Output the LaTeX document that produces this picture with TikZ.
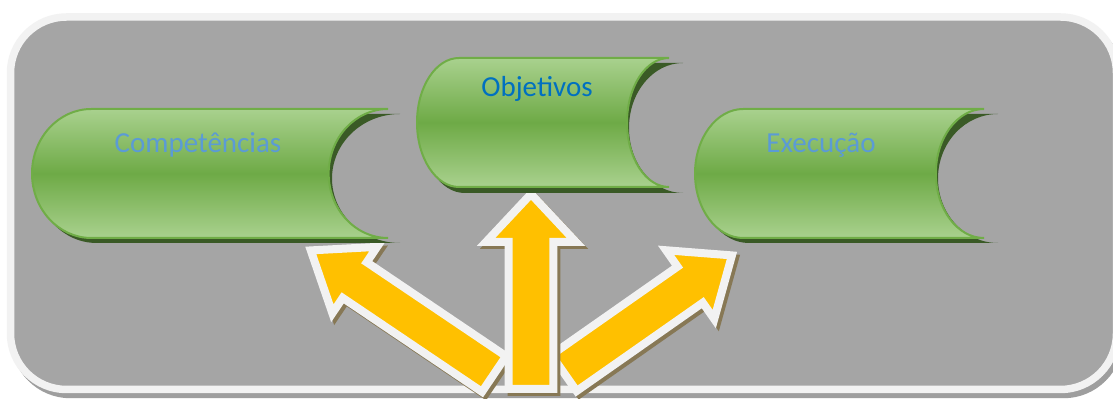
\documentclass[tikz,border=0pt]{standalone}
\usepackage{fontspec}
\setmainfont{Carlito}
\definecolor{framegray}{RGB}{165,165,165}
\definecolor{framewhite}{RGB}{242,242,242}
\definecolor{frameshadow}{RGB}{158,158,158}
\definecolor{glight}{RGB}{169,209,142}
\definecolor{gmid}{RGB}{110,170,70}
\definecolor{gedge}{RGB}{112,173,71}
\definecolor{gshadow}{RGB}{58,90,38}
\definecolor{ayellow}{RGB}{255,192,0}
\definecolor{ashadow}{RGB}{135,120,85}
\definecolor{tblue}{RGB}{91,155,213}
\definecolor{tdblue}{RGB}{0,112,192}
% stored-data shape: #1 style, #2 x0, #3 x1, #4 y0, #5 y1, #6 radius of the concave arc
\newcommand{\storeshapeR}[6]{%
  \path[#1] ({#2+(#3-#2)/6},#4) -- (#3,#4)
    arc[start angle=270, end angle=90, x radius={#6}, y radius={(#5-#4)/2}]
    -- ({#2+(#3-#2)/6},#5)
    arc[start angle=90, end angle=270, x radius={(#3-#2)/6}, y radius={(#5-#4)/2}]
    -- cycle;}
\newcommand{\storeshape}[5]{\storeshapeR{#1}{#2}{#3}{#4}{#5}{(#3-#2)/6}}
% block arrow: #1 #2 tail, #3 angle, #4 length, #5 head length, #6 head half width, #7 shaft half width
\newcommand{\blockarrow}[7]{%
  \begin{scope}[shift={(#1+3,#2+3)}, rotate=#3]
    \path[arrowshade] (0,-#7) -- (#4-#5,-#7) -- (#4-#5,-#6) -- (#4,0)
      -- (#4-#5,#6) -- (#4-#5,#7) -- (0,#7) -- cycle;
  \end{scope}
  \begin{scope}[shift={(#1,#2)}, rotate=#3]
    \path[arrowbody] (0,-#7) -- (#4-#5,-#7) -- (#4-#5,-#6) -- (#4,0)
      -- (#4-#5,#6) -- (#4-#5,#7) -- (0,#7) -- cycle;
  \end{scope}}
\begin{document}
\begin{tikzpicture}[x=0.5pt, y=-0.5pt, line join=miter]
\tikzset{
  greenbox/.style={top color=glight, bottom color=glight, middle color=gmid, draw=gedge, line width=1pt},
  greenshadow/.style={fill=gshadow},
  arrowbody/.style={fill=ayellow, draw=framewhite, line width=4pt},
  arrowshade/.style={fill=ashadow, draw=ashadow, line width=4pt},
  lbl/.style={anchor=base, inner sep=0pt, font=\fontsize{14.5pt}{17pt}\selectfont}
}
\useasboundingbox (0,0) rectangle (1113,399);
\fill[white] (0,0) rectangle (1113,399);
% frame
\path[fill=frameshadow, draw=frameshadow, line width=3.75pt, rounded corners=28pt] (14.5,22) rectangle (1119.5,394.5);
\path[fill=framegray, draw=framewhite, line width=3.75pt, rounded corners=28pt] (10.5,17) rectangle (1116.5,389.5);
% arrows
\blockarrow{494}{374}{146}{221}{53}{40}{21.5}
\blockarrow{564}{373}{35}{205}{51}{42}{22}
\blockarrow{531}{389}{90}{195}{48}{45}{22.3}
% green shapes: shadows
\storeshapeR{greenshadow}{36}{400}{114}{243}{68}
\storeshapeR{greenshadow}{421}{683}{63}{193}{54}
\storeshapeR{greenshadow}{699}{998}{114}{243}{60}
% green shapes
\storeshape{greenbox}{32}{388}{109}{238}
\storeshape{greenbox}{417}{669}{58}{187}
\storeshape{greenbox}{695}{984}{109}{238}
% labels
\node[lbl, text=tblue] (comp) at (198,153) {Competências};
\node[lbl, text=tdblue] (obj) at (537,97) {Objetivos};
\node[lbl, text=tblue] (exec) at (821,153) {Execução};
\end{tikzpicture}
\end{document}
